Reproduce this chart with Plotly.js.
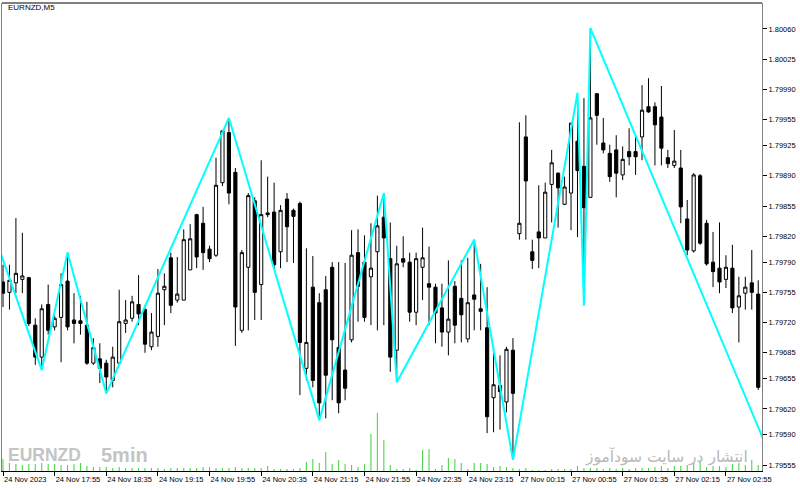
<!DOCTYPE html>
<html><head><meta charset="utf-8">
<script src="https://cdn.plot.ly/plotly-3.0.1.min.js"></script>
<style>html,body{margin:0;padding:0;background:#fff}#chart{width:800px;height:488px}</style>
</head><body><div id="chart"></div>
<script>
// EURNZD M5 candles (prices in 1e-5 points, divided below)
const openPts = [179767,179755,179766,179770,179772,179717,179680,179741,179715,179726,
179768,179723,179722,179717,179673,179678,179673,179653,179673,179719,
179725,179741,179735,179692,179704,179758,179795,179746,179746,179781,
179845,179835,179805,179798,179882,179940,179894,179711,179784,179861,
179764,179847,179848,179802,179863,179850,179858,179667,179761,179743,
179758,179784,179691,179665,179700,179801,179790,179773,179802,179842,
179794,179688,179794,179790,179732,179784,179765,179761,179737,179709,
179762,179748,179701,179752,179736,179714,179633,179647,179628,179688,
179823,179935,179802,179825,179818,179880,179893,179857,179870,179930,
179901,179865,179985,179928,179916,179920,179891,179918,179918,179935,
179970,179970,179958,179911,179902,179899,179840,179803,179890,179835,
179790,179783,179770,179783,179738,179754,179766,179753];
const highPts = [179787,179787,179841,179824,179773,179725,179741,179764,179728,179777,
179801,179754,179751,179744,179702,179696,179677,179692,179758,179746,
179751,179775,179740,179731,179782,179777,179801,179796,179828,179834,
179846,179854,179809,179911,179943,179957,179899,179804,179870,179865,
179908,179889,179882,179856,179870,179852,179860,179806,179797,179754,
179774,179790,179790,179789,179827,179828,179821,179835,179867,179870,
179836,179809,179820,179801,179801,179830,179808,179765,179765,179792,
179768,179792,179795,179816,179788,179761,179692,179682,179692,179702,
179952,179960,179816,179879,179882,179920,179894,179889,179951,179986,
179980,180061,179986,179957,179926,179937,179924,179945,179937,179995,
180003,179975,179994,179920,179943,179920,179862,179893,179892,179839,
179825,179836,179798,179810,179773,179773,179804,179769];
const lowPts = [179738,179735,179754,179754,179716,179671,179665,179706,179711,179674,
179711,179696,179706,179671,179671,179650,179638,179645,179671,179708,
179721,179717,179685,179688,179692,179717,179731,179743,179746,179781,
179783,179781,179790,179796,179878,179857,179693,179708,179711,179723,
179723,179842,179783,179783,179790,179789,179636,179653,179645,179607,
179609,179630,179615,179630,179697,179721,179721,179717,179711,179717,
179663,179651,179784,179721,179717,179746,179717,179696,179692,179682,
179696,179697,179697,179711,179711,179592,179593,179596,179616,179561,
179816,179816,179782,179783,179818,179836,179830,179856,179827,179819,
179740,179865,179926,179916,179883,179865,179885,179902,179891,179908,
179963,179902,179902,179899,179899,179835,179798,179801,179810,179786,
179761,179754,179760,179731,179697,179735,179735,179642];
const closePts = [179754,179769,179777,179774,179719,179680,179736,179711,179725,179764,
179715,179719,179719,179673,179691,179667,179657,179680,179721,179723,
179744,179730,179695,179709,179754,179762,179740,179753,179816,179817,
179796,179801,179794,179879,179942,179870,179738,179801,179867,179755,
179845,179845,179787,179850,179831,179843,179697,179697,179653,179627,
179659,179700,179627,179644,179798,179762,179726,179783,179832,179818,
179680,179788,179790,179732,179794,179795,179761,179731,179709,179724,
179717,179729,179743,179747,179733,179611,179648,179640,179689,179638,
179835,179884,179792,179818,179871,179905,179876,179877,179951,179896,
179853,179957,179960,179920,179889,179893,179909,179912,179912,179966,
179964,179949,179922,179904,179907,179854,179804,179891,179812,179788,
179779,179767,179784,179737,179751,179761,179755,179645];
const volume = [120,80,70,60,70,70,80,70,70,60,
60,70,80,50,40,40,40,30,40,30,
30,30,30,30,30,20,30,30,30,30,
30,40,40,30,30,30,40,30,30,30,
30,50,20,20,20,20,30,90,120,80,
190,70,110,70,60,40,70,370,580,310,
60,20,20,30,10,210,220,20,60,130,
120,80,20,80,80,70,40,50,40,30,
20,30,10,10,10,20,20,20,20,50,
30,30,30,20,30,20,30,20,30,30,
30,40,50,30,50,50,60,80,90,40,
50,50,40,70,80,60,110,60];
// ZigZag pivots (bar index, price)
const zzIdx = [-1,6,10,16,35,49,59,61,73,79,89,90,91,118];
const zzPrice = [1.79814,1.79665,1.79801,1.79638,1.79957,1.79607,1.79870,1.79651,1.79816,1.79561,1.79986,1.79740,1.80061,1.79581];
// axis labels
const tickIdx = [0,8,16,24,32,40,48,56,64,72,80,88,96,104,112];
const tickText = ['24 Nov 2023','24 Nov 17:55','24 Nov 18:35','24 Nov 19:15','24 Nov 19:55','24 Nov 20:35','24 Nov 21:15','24 Nov 21:55','24 Nov 22:35','24 Nov 23:15','27 Nov 00:15','27 Nov 00:55','27 Nov 01:35','27 Nov 02:15','27 Nov 02:55'];
const priceTicks = [1.80060,1.80025,1.79990,1.79955,1.79925,1.79890,1.79855,1.79820,1.79790,1.79755,1.79720,1.79685,1.79655,1.79620,1.79590,1.79555];

const toP = a => a.map(v => v / 100000);
const idx = openPts.map((_, i) => i);

const traces = [
  {type:'bar', x: idx, y: volume, yaxis:'y2', width:0.17,
   marker:{color:'#4fd24f', line:{width:0}}, hoverinfo:'skip'},
  {type:'candlestick', x: idx, open: toP(openPts), high: toP(highPts), low: toP(lowPts), close: toP(closePts),
   increasing:{line:{color:'#000', width:1}, fillcolor:'#ffffff'},
   decreasing:{line:{color:'#000', width:1}, fillcolor:'#000000'},
   whiskerwidth:0, hoverinfo:'skip'},
  {type:'scatter', mode:'lines', x: zzIdx, y: zzPrice, line:{color:'#00ffff', width:2}, hoverinfo:'skip'}
];

const L = 2, R = 762, T = 3, B = 471;
const px = x => (x - L) / (R - L);
const py = y => (B - y) / (B - T);

const layout = {
  width:800, height:488, margin:{l:L, r:800-R, t:T, b:488-B},
  paper_bgcolor:'#fff', plot_bgcolor:'#fff', showlegend:false,
  font:{family:'Liberation Sans, Arial, sans-serif', size:7.5, color:'#000'},
  xaxis:{type:'linear', range:[-0.155, 117.585], rangeslider:{visible:false},
    tickvals: tickIdx, ticktext: tickText, ticks:'outside', ticklen:4, tickcolor:'#000',
    tickangle:0, ticklabelposition:'outside right', ticklabelstandoff:1, showgrid:false, zeroline:false,
    showline:true, linecolor:'#000', linewidth:1, tickfont:{size:7.5}},
  yaxis:{side:'right', range:[1.795481, 1.800901], tickvals: priceTicks, tickformat:'.5f',
    ticks:'outside', ticklen:4, tickcolor:'#000', showgrid:false, zeroline:false,
    showline:true, mirror:true, linecolor:'#808080', linewidth:1, tickfont:{size:7.5}},
  yaxis2:{overlaying:'y', range:[0, 4680], visible:false},
  shapes:[
    {type:'line', xref:'paper', yref:'paper', x0:0, x1:1, y0:1, y1:1, line:{color:'#808080', width:2}}
  ],
  annotations:[
    {xref:'paper', yref:'paper', x:px(6), y:py(8), xanchor:'left', yanchor:'middle', showarrow:false,
     text:'EURNZD,M5', font:{size:8, color:'#000'}},
    {xref:'paper', yref:'paper', x:px(6), y:py(455), xanchor:'left', yanchor:'middle', showarrow:false,
     text:'<b>EURNZD</b>', font:{family:'Liberation Sans, Arial', size:17.5, color:'#c4c4c4'}},
    {xref:'paper', yref:'paper', x:px(99), y:py(455), xanchor:'left', yanchor:'middle', showarrow:false,
     text:'<b>5min</b>', font:{family:'Liberation Sans, Arial', size:20, color:'#c4c4c4'}},
    {xref:'paper', yref:'paper', x:px(750), y:py(456), xanchor:'right', yanchor:'middle', showarrow:false,
     text:'انتشار در سایت سودآموز', font:{family:'DejaVu Sans', size:15.5, color:'#b8b8b8'}}
  ]
};

Plotly.newPlot('chart', traces, layout, {staticPlot:true, displayModeBar:false});
</script>
</body></html>
